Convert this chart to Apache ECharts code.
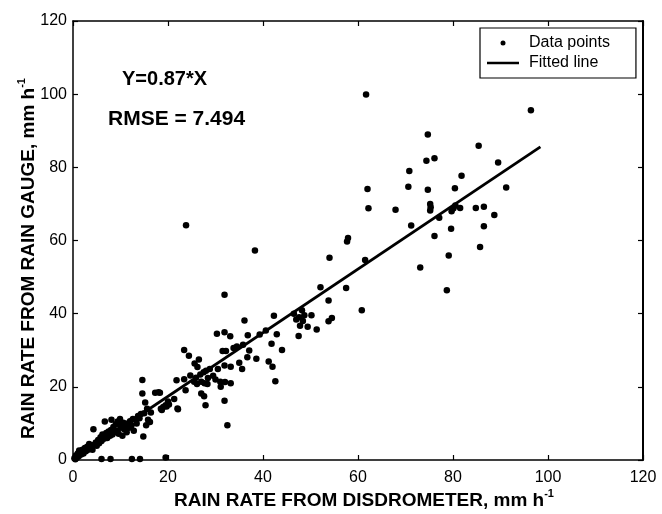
<!DOCTYPE html>
<html>
<head>
<meta charset="utf-8">
<script src="https://cdn.jsdelivr.net/npm/echarts@6/dist/echarts.min.js"></script>
<style>html,body{margin:0;padding:0;background:#fff;}#c{width:662px;height:514px;}</style>
</head>
<body>
<div id="c"></div>
<script>
// Axis ticks
const xTicks = [0, 20, 40, 60, 80, 100, 120];
const yTicks = [0, 20, 40, 60, 80, 100, 120];

// Data points [disdrometer, gauge]
const pointsLow = [
  [0.3,0.5],[0.5,0.2],[0.6,1.2],[0.8,0.6],[1.0,1.8],[1.2,1.0],[1.3,2.6],[1.5,2.2],[1.7,1.5],[2.0,2.8],
  [2.2,1.8],[2.5,3.3],[2.7,2.4],[2.8,3.0],[3.0,3.6],[3.2,2.8],[3.4,4.4],[3.5,3.2],[3.8,4.0],[4.0,3.5],
  [4.1,2.8],[4.3,8.4],[4.5,4.2],[4.8,4.8],[5.0,3.9],[5.3,5.5],[5.5,4.6],[5.8,6.2],[6.0,5.2],[6.2,7.0],
  [6.5,5.8],[6.7,10.5],[6.8,6.8],[7.0,7.4],[7.2,6.0],[7.5,7.8],[7.8,6.6],[8.0,8.2],[8.1,11.0],[8.3,7.0],
  [8.5,9.0],[8.7,7.6],[9.0,9.8],[9.2,8.0],[9.4,10.5],[9.6,7.2],[9.9,11.2],[10.0,8.8],[10.2,9.6],[10.4,6.6],
  [10.6,10.2],[10.8,8.4],[11.0,9.2],[11.3,7.6],[11.5,10.0],[11.8,8.8],[12.0,10.6],[12.3,9.4],[12.6,11.2],[12.8,8.0],
  [13.1,11.1],[13.4,10.0],[13.7,12.0],[14.0,11.4],[14.3,12.6],[14.6,21.9],[14.6,18.2],[14.8,6.4],[15.0,12.8],[15.2,15.7],
  [15.4,9.5],[15.6,14.0],[15.8,11.0],[16.2,10.4],[16.4,13.0],[17.3,18.4],[18.0,18.5],[18.3,18.4],[18.5,14.0],[18.7,13.7],
  [19.5,15.0],[19.7,14.6],[20.2,15.2],[21.3,16.7],[21.8,21.8],[22.1,13.9]
];
const pointsZero = [[6.0,0.3],[7.9,0.3],[12.4,0.3],[14.1,0.3],[19.5,0.7]];
const pointsMid = [
  [23.8,64.2],[38.3,57.3],[31.9,45.2],[36.1,38.1],[42.3,39.4],[30.3,34.5],[31.9,34.9],[33.1,33.8],[36.8,34.1],[42.9,34.4],
  [41.8,31.8],[44.0,30.1],[23.4,30.1],[24.4,28.5],[26.5,27.5],[25.6,26.4],[26.2,25.4],[31.5,29.8],[32.2,29.8],[33.8,30.6],
  [37.1,29.9],[36.7,28.1],[35.0,26.6],[35.6,24.9],[38.6,27.7],[41.2,26.9],[42.0,25.5],[42.6,21.5],[31.9,25.8],[30.5,24.9],
  [28.8,24.9],[28.0,24.4],[27.5,24.0],[29.5,23.0],[30.0,22.0],[28.4,22.4],[23.4,22.1],[23.7,19.1],[25.5,21.4],[26.1,20.8],
  [27.0,21.4],[27.7,21.0],[28.3,20.8],[31.0,21.4],[32.0,21.3],[33.2,21.0],[31.1,20.0],[27.0,18.2],[27.6,17.4],[27.9,15.0],
  [31.9,16.2],[32.5,9.5],[20.0,16.0],[19.0,14.5],[22.0,14.1],[24.7,23.1],[25.9,22.5],[26.8,23.4],[34.5,31.0],[35.8,31.5],
  [39.3,34.3],[40.6,35.4],[33.2,25.5]
];
const pointsUpperMid = [
  [61.7,99.9],[62.0,74.1],[62.2,68.8],[57.9,60.7],[57.7,59.7],[54.0,55.3],[61.5,54.7],[52.1,47.2],[57.5,47.0],[53.8,43.6],
  [60.8,40.9],[54.5,38.8],[53.8,37.9],[50.2,39.6],[47.8,36.7],[49.4,36.4],[51.3,35.7],[47.5,33.9],[46.5,40.0],[47.0,38.4],
  [48.2,40.9],[48.7,39.6],[47.6,39.0],[48.4,38.0]
];
const pointsHigh = [
  [96.4,95.6],[74.7,89.0],[85.4,85.9],[74.4,81.8],[76.1,82.5],[89.5,81.3],[70.8,79.0],[81.8,77.7],[70.6,74.7],[74.7,73.9],
  [80.4,74.3],[91.2,74.5],[75.2,68.2],[75.3,69.1],[75.2,70.0],[79.7,68.0],[80.1,68.8],[80.5,69.6],[67.9,68.4],[81.5,68.9],
  [84.8,68.9],[86.5,69.2],[88.7,67.0],[77.1,66.2],[71.2,64.1],[79.6,63.2],[86.5,63.9],[76.1,61.2],[85.7,58.2],[79.1,55.9],
  [73.1,52.6],[78.7,46.4]
];
// Fitted line end points (Y = 0.87*X)
const fitLine = [[0,0],[98.4,85.6]];

const allPoints = pointsLow.concat(pointsZero, pointsMid, pointsUpperMid, pointsHigh);

const sans = '"Liberation Sans", Arial, sans-serif';

const chart = echarts.init(document.getElementById('c'));
const axisCommon = {
  type: 'value', min: 0, max: 120, interval: 20,
  splitLine: {show: false},
  nameMoveOverlap: false,
  axisLine: {show: true, onZero: false, lineStyle: {color: '#000', width: 1.5}},
  axisTick: {show: true, inside: true, length: 5, lineStyle: {color: '#000', width: 1.2}}
};
const titleRich = {
  a: {fontFamily: sans, fontWeight: 'bold', fontSize: 19, color: '#000', lineHeight: 22, verticalAlign: 'bottom'},
  s: {fontFamily: sans, fontWeight: 'bold', fontSize: 11, color: '#000', lineHeight: 22, verticalAlign: 'top'}
};
chart.setOption({
  animation: false,
  backgroundColor: '#fff',
  grid: {left: 73, right: 19, top: 21, bottom: 54, containLabel: false, outerBoundsMode: 'none'},
  xAxis: [
    Object.assign({}, axisCommon, {
      position: 'bottom',
      axisLabel: {color: '#000', fontFamily: sans, fontSize: 16, margin: 10,
        formatter: v => xTicks.includes(v) ? String(v) : ''},
      name: '{a|RAIN RATE FROM DISDROMETER, mm h}{s|-1}',
      nameLocation: 'middle', nameGap: 28,
      nameTextStyle: {padding: [0, 0, 0, 12], rich: titleRich}
    }),
    Object.assign({}, axisCommon, {position: 'top', axisLabel: {show: false}})
  ],
  yAxis: [
    Object.assign({}, axisCommon, {
      position: 'left',
      axisLabel: {color: '#000', fontFamily: sans, fontSize: 16, margin: 6,
        formatter: v => yTicks.includes(v) ? String(v) : ''},
      name: '{a|RAIN RATE FROM RAIN GAUGE, mm h}{s|-1}',
      nameLocation: 'middle', nameGap: 35,
      nameTextStyle: {padding: [0, 36, 0, 0], rich: titleRich}
    }),
    Object.assign({}, axisCommon, {position: 'right', axisLabel: {show: false},
      axisLine: {show: true, onZero: false, lineStyle: {color: '#000', width: 2}}})
  ],
  legend: {
    orient: 'vertical', left: 480, top: 28,
    padding: [7, 26, 7, 7],
    itemGap: 4, itemWidth: 32, itemHeight: 5,
    borderColor: '#000', borderWidth: 1.2,
    textStyle: {fontFamily: sans, fontSize: 16, lineHeight: 16, color: '#000', padding: [0, 0, 0, 5]},
    data: [
      {name: 'Data points', icon: 'circle', itemStyle: {color: '#000'}},
      {name: 'Fitted line', icon: 'path://M0,0H32V2.5H0Z', itemStyle: {color: '#000'}}
    ]
  },
  graphic: [
    {type: 'text', left: 122, top: 69, style: {text: 'Y=0.87*X', fontFamily: sans, fontWeight: 'bold', fontSize: 20, fill: '#000'}},
    {type: 'text', left: 108, top: 109, style: {text: 'RMSE = 7.494', fontFamily: sans, fontWeight: 'bold', fontSize: 21, fill: '#000'}}
  ],
  series: [
    {
      name: 'Data points', type: 'scatter', xAxisIndex: 0, yAxisIndex: 0,
      data: allPoints, symbol: 'circle', symbolSize: 6.5,
      itemStyle: {color: '#000', opacity: 1}
    },
    {
      name: 'Fitted line', type: 'line', xAxisIndex: 0, yAxisIndex: 0,
      data: fitLine, symbol: 'none',
      lineStyle: {color: '#000', width: 2.8}
    }
  ]
});
</script>
</body>
</html>
